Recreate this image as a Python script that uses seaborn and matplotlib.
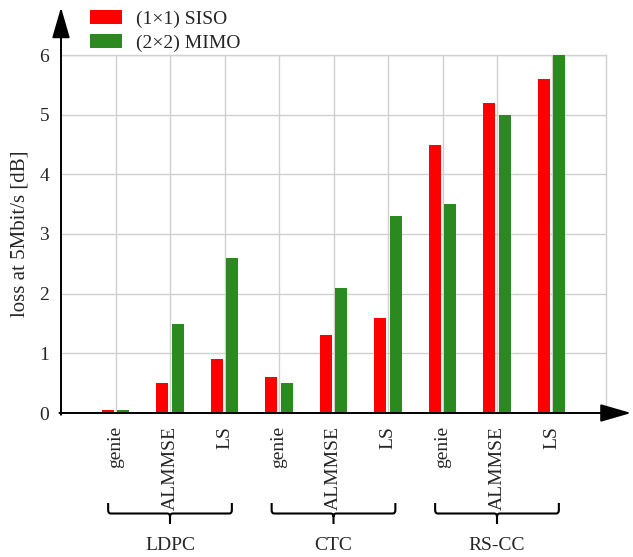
import matplotlib
matplotlib.use("Agg")
import matplotlib.pyplot as plt
import matplotlib.transforms as mtransforms
from matplotlib.path import Path
from matplotlib.patches import PathPatch, Patch
import seaborn as sns
import pandas as pd

# Codes and channel estimators
codes = ["LDPC", "CTC", "RS-CC"]
estimators = ["genie", "ALMMSE", "LS"]
series = ["(1×1) SISO", "(2×2) MIMO"]

# Loss at 5 Mbit/s in dB, ordered code by code, estimator by estimator
siso_loss = [0.05, 0.5, 0.9, 0.6, 1.3, 1.6, 4.5, 5.2, 5.6]
mimo_loss = [0.05, 1.5, 2.6, 0.5, 2.1, 3.3, 3.5, 5.0, 6.0]

colors = ["#ff0000", "#2a8a1f"]

keys = [f"{c} {e}" for c in codes for e in estimators]
df = pd.DataFrame({
    "key": keys * 2,
    "loss": siso_loss + mimo_loss,
    "config": [series[0]] * len(keys) + [series[1]] * len(keys),
})

sns.set_style("white")
plt.rcParams["font.family"] = ["Liberation Serif", "DejaVu Serif"]

fig = plt.figure(figsize=(6.33, 5.57), dpi=100)
ax = fig.add_axes([61 / 633, 1 - 413 / 557, (606 - 61) / 633, (413 - 55) / 557])

sns.barplot(data=df, x="key", y="loss", hue="config", order=keys,
            hue_order=series, palette=colors, width=0.56, gap=0.2,
            saturation=1, linewidth=0, ax=ax, legend=False, zorder=3)

ax.set_xlim(-1, 9)
ax.set_ylim(0, 6)
ax.set_yticks(range(7))
ax.set_xticks(range(9))
ax.set_xticklabels(estimators * 3, rotation=90, fontsize=14)
ax.tick_params(axis="y", labelsize=14, direction="inout", length=9, width=1.2, pad=4)
ax.tick_params(axis="x", direction="inout", length=9, width=1.2, pad=5)
ax.set_xlabel("")
ax.set_ylabel("loss at 5Mbit/s [dB]", fontsize=15, labelpad=7)

ax.grid(True, color="#d0d0d0", linewidth=1.0, zorder=0)
ax.set_axisbelow(True)
for side in ["top", "right"]:
    ax.spines[side].set_visible(True)
    ax.spines[side].set_color("#d0d0d0")
    ax.spines[side].set_linewidth(1.0)
for side in ["left", "bottom"]:
    ax.spines[side].set_visible(False)

# Axes drawn as arrows
arrow_kw = dict(arrowstyle="-|>,head_length=1.9,head_width=0.55", color="black",
                lw=1.4, shrinkA=0, shrinkB=0)
ax.annotate("", xy=(0, 1.133), xytext=(0, -0.005), xycoords="axes fraction",
            arrowprops=arrow_kw, annotation_clip=False)
ax.annotate("", xy=(1.046, 0), xytext=(-0.003, 0), xycoords="axes fraction",
            arrowprops=arrow_kw, annotation_clip=False)

# Braces grouping the estimators by code
bt = mtransforms.blended_transform_factory(ax.transData, fig.transFigure)
y_top = 1 - 503 / 557
y_mid = 1 - 513.5 / 557
y_tip = 1 - 524 / 557
r = 0.05
dy = 0.006
for i, code in enumerate(codes):
    x0 = 3 * i - 0.135
    x1 = 3 * i + 2 + 0.135
    xc = 3 * i + 1
    verts = [
        (x0, y_top), (x0, y_mid + dy), (x0, y_mid), (x0 + r, y_mid),
        (xc - r, y_mid), (xc, y_mid), (xc, y_mid - dy), (xc, y_tip),
        (xc, y_mid - dy), (xc, y_mid), (xc + r, y_mid),
        (x1 - r, y_mid), (x1, y_mid), (x1, y_mid + dy), (x1, y_top),
    ]
    codes_p = [
        Path.MOVETO, Path.LINETO, Path.CURVE3, Path.CURVE3,
        Path.LINETO, Path.CURVE3, Path.CURVE3, Path.LINETO,
        Path.MOVETO, Path.CURVE3, Path.CURVE3,
        Path.LINETO, Path.CURVE3, Path.CURVE3, Path.LINETO,
    ]
    ax.add_patch(PathPatch(Path(verts, codes_p), facecolor="none",
                           edgecolor="black", lw=1.5, transform=bt,
                           clip_on=False))
    ax.text(xc, 1 - 545 / 557, code, transform=bt, ha="center", va="center",
            fontsize=14)

handles = [Patch(facecolor=c, edgecolor="none") for c in colors]
fig.legend(handles, series, loc="upper left", bbox_to_anchor=(82 / 633, 1 - 2 / 557),
           frameon=False, fontsize=14, handlelength=1.65, handleheight=0.75,
           handletextpad=0.75, labelspacing=0.3, borderaxespad=0)

fig.savefig("out.png", dpi=100)
